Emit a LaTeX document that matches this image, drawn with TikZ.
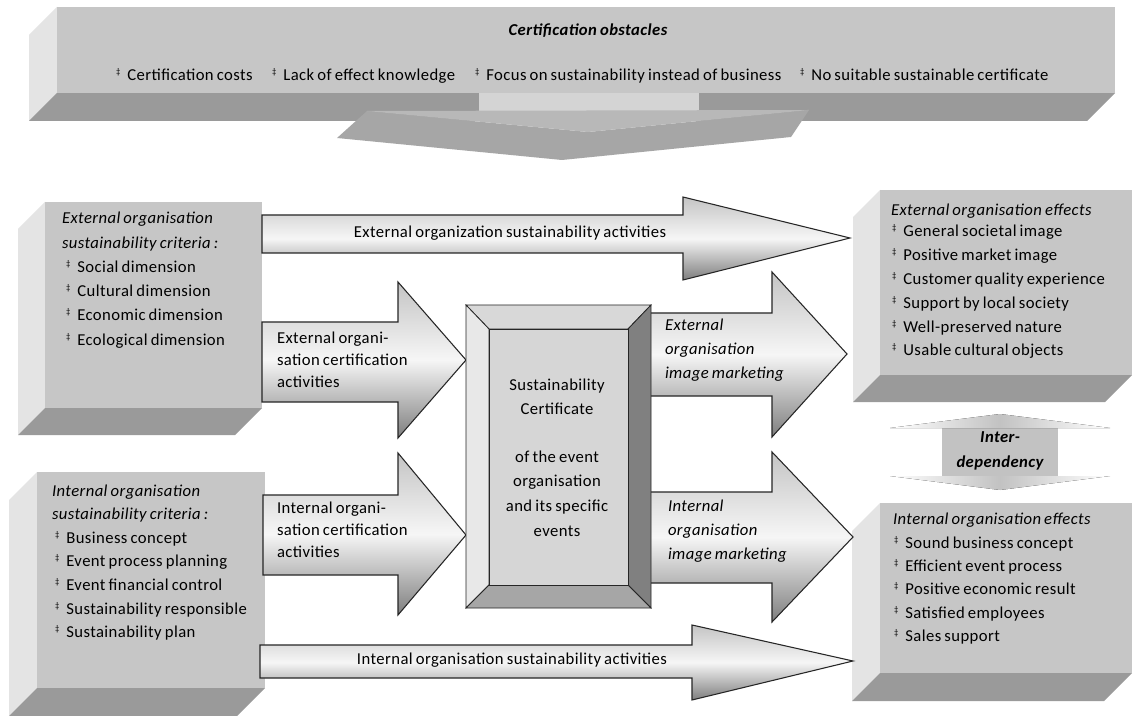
\documentclass[tikz,border=0pt]{standalone}
\usepackage{fontspec}
\setmainfont{Carlito}[LetterSpace=2.5,WordSpace=0.75]
\definecolor{face}{HTML}{C6C6C6}
\definecolor{lside}{HTML}{E4E4E4}
\definecolor{bside}{HTML}{9A9A9A}
\definecolor{arrTop}{HTML}{C4C4C4}
\definecolor{arrMid}{HTML}{F6F6F6}
\definecolor{arrBot}{HTML}{7E7E7E}
\definecolor{cTop}{HTML}{D8D8D8}
\definecolor{cLeft}{HTML}{E8E8E8}
\definecolor{cRight}{HTML}{808080}
\definecolor{cBot}{HTML}{A6A6A6}
\definecolor{cIn}{HTML}{D6D6D6}
\definecolor{dStem}{HTML}{D4D4D4}
\definecolor{dTop}{HTML}{B8B8B8}
\definecolor{dFront}{HTML}{A6A6A6}
\definecolor{iGray}{HTML}{C2C2C2}
\newcommand\bevbox[5]{%
  \fill[lside] ({#1-#5},{#2+#5}) -- (#1,#2) -- (#1,#4) -- ({#1-#5},{#4+#5}) -- cycle;
  \fill[bside] (#1,#4) -- (#3,#4) -- ({#3-#5},{#4+#5}) -- ({#1-#5},{#4+#5}) -- cycle;
  \fill[face] (#1,#2) rectangle (#3,#4);}
\newcommand\bul{\makebox[8.5pt][l]{\raisebox{0.32em}{\fontsize{6.5}{7}\selectfont ‡}}}
\begin{document}
\begin{tikzpicture}[x=0.75pt,y=-0.75pt,
  font=\fontsize{12.5}{15}\selectfont,
  every node/.style={inner sep=0pt,outer sep=0pt},
  lt/.style={anchor=mid west},
  ct/.style={anchor=mid},
  it/.style={anchor=mid west,font=\fontsize{12.5}{15}\selectfont\itshape},
  bit/.style={anchor=mid,font=\fontsize{12.5}{15}\selectfont\bfseries\itshape},
  blockarrow/.style={draw=black!85,line width=0.8pt,line join=miter,
    top color=arrTop,bottom color=arrBot,middle color=arrMid}]
\useasboundingbox (0,0) rectangle (1138,716);
\fill[white] (0,0) rectangle (1138,716);

% ---------- banner ----------
\bevbox{57}{7}{1115}{93}{28}
\fill[dStem] (479,93) rectangle (699,112);
\fill[dFront] (367,111) -- (588,132) -- (809,110) -- (791,137) -- (562,160) -- (337,138) -- cycle;
\fill[dTop] (367,111) -- (809,110) -- (588,132) -- cycle;
\node[bit] (obst) at (588,32) {Certification obstacles};
\node[lt] (o1) at (116,77) {\bul Certification costs};
\node[lt] (o2) at (272,77) {\bul Lack of effect knowledge};
\node[lt] (o3) at (475,77) {\bul Focus on sustainability instead of business};
\node[lt] (o4) at (800,77) {\bul No suitable sustainable certificate};

% ---------- side boxes ----------
\bevbox{45}{202}{262}{408}{27}
\bevbox{37}{472}{265}{688}{28}
\bevbox{880}{190}{1132}{375}{27}
\bevbox{880}{503}{1132}{673}{28}

% ---------- block arrows ----------
\draw[blockarrow] (262,215) -- (683,215) -- (683,197) -- (850,238) -- (683,280) -- (683,253) -- (262,253) -- cycle;
\draw[blockarrow] (262,322) -- (398,322) -- (398,282) -- (466,360) -- (398,438) -- (398,402) -- (262,402) -- cycle;
\draw[blockarrow] (263,495) -- (398,495) -- (398,453) -- (466,535) -- (398,615) -- (398,575) -- (263,575) -- cycle;
\draw[blockarrow] (645,313) -- (772,313) -- (772,272) -- (847,354) -- (772,437) -- (772,396) -- (645,396) -- cycle;
\draw[blockarrow] (645,492) -- (772,492) -- (772,452) -- (853,537) -- (772,622) -- (772,583) -- (645,583) -- cycle;
\draw[blockarrow] (260,645) -- (692,645) -- (692,625) -- (853,661) -- (692,700) -- (692,678) -- (260,678) -- cycle;

% ---------- interdependency ----------
\fill[iGray] (942,428) rectangle (1058,476);
\fill[left color=white,right color=white,middle color=iGray] (890,428) -- (1000,414) -- (1110,428) -- cycle;
\fill[left color=white,right color=white,middle color=iGray] (890,476) -- (1000,490) -- (1110,476) -- cycle;
\node[bit] (inter1) at (1000,439) {Inter-};
\node[bit] (inter2) at (1000,464) {dependency};

% ---------- certificate ----------
\begin{scope}[draw=black!85,line width=0.6pt]
\filldraw[fill=cTop] (466,305) -- (651,305) -- (628,329) -- (489,329) -- cycle;
\filldraw[fill=cLeft] (466,305) -- (489,329) -- (489,585) -- (466,608) -- cycle;
\filldraw[fill=cRight] (651,305) -- (651,608) -- (628,585) -- (628,329) -- cycle;
\filldraw[fill=cBot] (466,608) -- (489,585) -- (628,585) -- (651,608) -- cycle;
\filldraw[fill=cIn] (489,329) rectangle (628,585);
\end{scope}
\node[ct] (c1) at (557,387) {Sustainability};
\node[ct] (c2) at (557,411) {Certificate};
\node[ct] (c3) at (557,459) {of the event};
\node[ct] (c4) at (557,483) {organisation};
\node[ct] (c5) at (557,508) {and its specific};
\node[ct] (c6) at (557,533) {events};

% ---------- arrow labels ----------
\node[ct] (ta) at (510,234) {External organization sustainability activities};
\node[ct] (ba) at (512,661) {Internal organisation sustainability activities};
\node[lt] (ec1) at (277,340) {External organi-};
\node[lt] (ec2) at (277,362) {sation certification};
\node[lt] (ec3) at (277,384) {activities};
\node[lt] (ic1) at (277,510) {Internal organi-};
\node[lt] (ic2) at (277,532) {sation certification};
\node[lt] (ic3) at (277,554) {activities};
\node[it] (em1) at (665,327) {External};
\node[it] (em2) at (665,351) {organisation};
\node[it] (em3) at (665,375) {image marketing};
\node[it] (im1) at (668,508) {Internal};
\node[it] (im2) at (668,532) {organisation};
\node[it] (im3) at (668,556) {image marketing};

% ---------- left box texts ----------
\node[it] (ex0) at (62,220) {External organisation};
\node[it] (ex1) at (62,245) {sustainability criteria :};
\node[lt] (ex2) at (66,269) {\bul Social dimension};
\node[lt] (ex3) at (66,293) {\bul Cultural dimension};
\node[lt] (ex4) at (66,317) {\bul Economic dimension};
\node[lt] (ex5) at (66,342) {\bul Ecological dimension};

\node[it] (in0) at (52,493) {Internal organisation};
\node[it] (in1) at (52,516) {sustainability criteria :};
\node[lt] (in2) at (55,540) {\bul Business concept};
\node[lt] (in3) at (55,563) {\bul Event process planning};
\node[lt] (in4) at (55,587) {\bul Event financial control};
\node[lt] (in5) at (55,611) {\bul Sustainability responsible};
\node[lt] (in6) at (55,634) {\bul Sustainability plan};

% ---------- right box texts ----------
\node[it] (ee0) at (891,212) {External organisation effects};
\node[lt] (ee1) at (892,233) {\bul General societal image};
\node[lt] (ee2) at (892,257) {\bul Positive market image};
\node[lt] (ee3) at (892,281) {\bul Customer quality experience};
\node[lt] (ee4) at (892,305) {\bul Support by local society};
\node[lt] (ee5) at (892,329) {\bul Well-preserved nature};
\node[lt] (ee6) at (892,352) {\bul Usable cultural objects};

\node[it] (ie0) at (893,521) {Internal organisation effects};
\node[lt] (ie1) at (894,545) {\bul Sound business concept};
\node[lt] (ie2) at (894,568) {\bul Efficient event process};
\node[lt] (ie3) at (894,591) {\bul Positive economic result};
\node[lt] (ie4) at (894,615) {\bul Satisfied employees};
\node[lt] (ie5) at (894,638) {\bul Sales support};
\end{tikzpicture}
\end{document}
